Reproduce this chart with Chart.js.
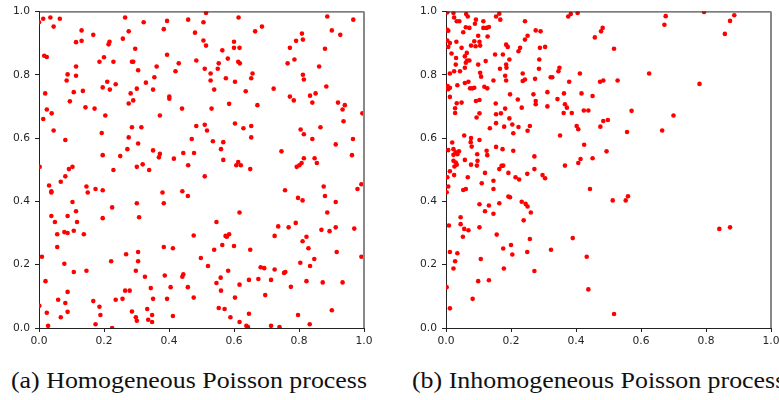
<!DOCTYPE html>
<html><head><meta charset="utf-8">
<script src="https://cdn.jsdelivr.net/npm/chart.js@4"></script>
<style>
html,body{margin:0;padding:0;width:779px;height:400px;overflow:hidden;background:#fff;}
.c{position:absolute;top:0;}
#a{left:0;} #b{left:405px;}
.cap{position:absolute;top:369px;font-family:"Liberation Serif",serif;font-size:23px;line-height:23px;white-space:nowrap;transform-origin:0 0;color:#111;}
</style></head><body>
<canvas id="a" class="c" width="380" height="360"></canvas>
<canvas id="b" class="c" width="380" height="360"></canvas>
<div class="cap" id="ca" style="left:11px">(a) Homogeneous Poisson process</div>
<div class="cap" id="cb" style="left:412px">(b) Inhomogeneous Poisson process</div>
<script>
const tickValues = [0, 0.2, 0.4, 0.6, 0.8, 1.0];
const captions = ["(a) Homogeneous Poisson process", "(b) Inhomogeneous Poisson process"];

// Homogeneous process: [x, y]
const homPoints = [
[0.000,0.966],[0.013,0.977],[0.035,0.981],[0.064,0.977],[0.045,0.952],[0.131,0.940],[0.167,0.926],[0.114,0.903],[0.131,0.907],[0.265,0.981],
[0.322,0.966],[0.394,0.970],[0.459,0.974],[0.384,0.944],[0.480,0.933],[0.276,0.937],[0.258,0.914],[0.217,0.904],[0.214,0.896],[0.296,0.882],
[0.016,0.860],[0.024,0.856],[0.200,0.855],[0.186,0.841],[0.229,0.841],[0.286,0.841],[0.290,0.841],[0.305,0.814],[0.362,0.826],[0.394,0.863],
[0.430,0.836],[0.420,0.811],[0.484,0.845],[0.114,0.826],[0.088,0.801],[0.085,0.782],[0.114,0.797],[0.210,0.778],[0.196,0.760],[0.218,0.753],
[0.236,0.770],[0.329,0.775],[0.355,0.792],[0.301,0.756],[0.282,0.741],[0.351,0.753],[0.401,0.731],[0.401,0.724],[0.276,0.709],[0.290,0.719],
[0.019,0.741],[0.107,0.745],[0.135,0.749],[0.095,0.716],[0.024,0.690],[0.039,0.678],[0.013,0.660],[0.143,0.697],[0.171,0.693],[0.204,0.671],
[0.372,0.671],[0.440,0.693],[0.045,0.624],[0.081,0.594],[0.193,0.616],[0.286,0.634],[0.315,0.634],[0.484,0.638],[0.470,0.597],[0.276,0.602],
[0.305,0.583],[0.272,0.565],[0.196,0.546],[0.250,0.543],[0.351,0.561],[0.372,0.550],[0.369,0.539],[0.415,0.535],[0.444,0.553],[0.477,0.553],
[0.459,0.514],[0.319,0.517],[0.301,0.509],[0.002,0.509],[0.103,0.509],[0.092,0.502],[0.229,0.499],[0.339,0.499],
[0.514,0.995],[0.506,0.966],[0.614,0.981],[0.506,0.908],[0.514,0.892],[0.564,0.877],[0.600,0.904],[0.600,0.885],[0.617,0.885],[0.665,0.937],
[0.686,0.952],[0.581,0.851],[0.553,0.836],[0.613,0.841],[0.618,0.836],[0.510,0.819],[0.528,0.804],[0.550,0.819],[0.528,0.782],[0.575,0.789],
[0.603,0.778],[0.657,0.804],[0.653,0.789],[0.539,0.753],[0.636,0.748],[0.722,0.756],[0.809,0.930],[0.791,0.907],[0.812,0.911],[0.772,0.885],
[0.765,0.836],[0.786,0.848],[0.812,0.800],[0.815,0.785],[0.887,0.984],[0.967,0.974],[0.901,0.940],[0.927,0.926],[0.880,0.882],[0.862,0.826],
[0.884,0.763],[0.772,0.731],[0.784,0.719],[0.834,0.734],[0.851,0.741],[0.841,0.712],[0.920,0.712],[0.941,0.704],[0.934,0.690],[0.995,0.678],
[0.937,0.653],[0.531,0.693],[0.585,0.708],[0.672,0.704],[0.510,0.642],[0.517,0.624],[0.603,0.646],[0.629,0.631],[0.653,0.638],[0.653,0.602],
[0.535,0.590],[0.567,0.587],[0.560,0.565],[0.567,0.531],[0.613,0.524],[0.607,0.514],[0.621,0.514],[0.650,0.502],[0.746,0.558],[0.805,0.627],
[0.815,0.612],[0.841,0.597],[0.866,0.634],[0.966,0.597],[0.913,0.580],[0.963,0.546],[0.815,0.536],[0.848,0.536],[0.855,0.521],[0.793,0.509],
[0.801,0.514],[0.808,0.521],
[0.081,0.479],[0.067,0.462],[0.031,0.450],[0.038,0.432],[0.038,0.428],[0.146,0.447],[0.150,0.428],[0.174,0.439],[0.196,0.435],[0.103,0.398],
[0.114,0.369],[0.038,0.354],[0.088,0.354],[0.049,0.335],[0.117,0.335],[0.056,0.296],[0.078,0.303],[0.088,0.300],[0.107,0.307],[0.138,0.296],
[0.196,0.347],[0.225,0.381],[0.301,0.394],[0.308,0.350],[0.380,0.428],[0.384,0.394],[0.441,0.432],[0.458,0.417],[0.476,0.292],[0.056,0.256],
[0.009,0.225],[0.078,0.203],[0.107,0.177],[0.146,0.181],[0.222,0.211],[0.268,0.233],[0.305,0.240],[0.305,0.211],[0.298,0.181],[0.326,0.162],
[0.384,0.256],[0.412,0.252],[0.498,0.221],[0.387,0.166],[0.441,0.162],[0.444,0.170],[0.020,0.148],[0.088,0.114],[0.265,0.118],[0.279,0.118],
[0.344,0.126],[0.405,0.129],[0.458,0.129],[0.476,0.096],[0.001,0.070],[0.059,0.089],[0.081,0.079],[0.088,0.051],[0.024,0.048],[0.067,0.034],
[0.028,0.007],[0.167,0.085],[0.186,0.067],[0.189,0.041],[0.174,0.012],[0.225,0.000],[0.236,0.089],[0.257,0.092],[0.286,0.052],[0.298,0.034],
[0.301,0.023],[0.333,0.060],[0.348,0.041],[0.336,0.026],[0.348,0.019],[0.351,0.092],[0.394,0.092],[0.412,0.038],
[0.510,0.479],[0.757,0.435],[0.876,0.447],[0.880,0.417],[0.980,0.439],[0.992,0.454],[0.797,0.411],[0.811,0.403],[0.913,0.398],[0.617,0.365],
[0.887,0.365],[0.546,0.335],[0.736,0.321],[0.768,0.318],[0.790,0.332],[0.725,0.291],[0.574,0.291],[0.578,0.288],[0.585,0.296],[0.564,0.262],
[0.600,0.259],[0.539,0.247],[0.650,0.247],[0.823,0.288],[0.811,0.274],[0.829,0.252],[0.869,0.310],[0.894,0.306],[0.913,0.318],[0.970,0.314],
[0.916,0.240],[0.992,0.225],[0.520,0.196],[0.582,0.181],[0.559,0.159],[0.546,0.142],[0.560,0.118],[0.617,0.137],[0.646,0.152],[0.603,0.096],
[0.682,0.192],[0.693,0.189],[0.725,0.185],[0.675,0.155],[0.714,0.152],[0.754,0.174],[0.758,0.177],[0.804,0.206],[0.834,0.196],[0.847,0.218],
[0.823,0.148],[0.873,0.144],[0.934,0.144],[0.775,0.130],[0.696,0.104],[0.553,0.063],[0.571,0.060],[0.589,0.034],[0.617,0.019],[0.638,0.007],
[0.643,0.003],[0.646,0.045],[0.714,0.007],[0.740,0.003],[0.797,0.041],[0.833,0.012],[0.901,0.056]
];

// Inhomogeneous process: [x, y]
const inhomPoints = [
[0.004,0.997],[0.023,0.995],[0.025,0.981],[0.062,0.992],[0.067,0.984],[0.033,0.969],[0.041,0.969],[0.092,0.974],[0.115,0.969],[0.154,0.984],
[0.164,0.993],[0.167,0.974],[0.243,0.969],[0.376,0.984],[0.384,0.992],[0.405,0.995],[0.004,0.942],[0.007,0.939],[0.061,0.950],[0.053,0.934],
[0.072,0.948],[0.089,0.961],[0.115,0.948],[0.125,0.948],[0.132,0.951],[0.099,0.923],[0.128,0.921],[0.276,0.940],[0.291,0.937],[0.251,0.923],
[0.243,0.911],[0.458,0.918],[0.004,0.908],[0.012,0.900],[0.007,0.888],[0.032,0.904],[0.017,0.867],[0.048,0.885],[0.064,0.869],[0.077,0.892],
[0.087,0.906],[0.091,0.890],[0.103,0.904],[0.105,0.892],[0.185,0.895],[0.190,0.888],[0.151,0.864],[0.175,0.864],[0.223,0.874],[0.228,0.885],
[0.289,0.885],[0.305,0.888],[0.031,0.853],[0.030,0.832],[0.058,0.858],[0.065,0.845],[0.061,0.838],[0.072,0.845],[0.122,0.843],[0.058,0.822],
[0.099,0.832],[0.105,0.806],[0.185,0.832],[0.186,0.822],[0.195,0.848],[0.166,0.819],[0.287,0.848],[0.286,0.819],[0.236,0.804],[0.349,0.822],
[0.346,0.811],[0.322,0.792],[0.327,0.792],[0.412,0.804],[0.012,0.804],[0.025,0.811],[0.043,0.811],[0.058,0.774],[0.069,0.778],[0.074,0.757],
[0.081,0.757],[0.087,0.759],[0.005,0.764],[0.012,0.759],[0.007,0.754],[0.035,0.767],[0.108,0.794],[0.118,0.762],[0.127,0.757],[0.146,0.782],
[0.182,0.797],[0.185,0.782],[0.236,0.780],[0.243,0.785],[0.274,0.787],[0.379,0.778],[0.012,0.730],[0.033,0.710],[0.048,0.712],[0.028,0.694],
[0.028,0.679],[0.092,0.717],[0.103,0.720],[0.153,0.709],[0.197,0.738],[0.221,0.722],[0.233,0.696],[0.269,0.738],[0.276,0.717],[0.276,0.707],
[0.312,0.745],[0.312,0.700],[0.343,0.723],[0.363,0.741],[0.366,0.707],[0.372,0.696],[0.362,0.679],[0.387,0.679],[0.417,0.741],[0.424,0.687],
[0.438,0.687],[0.451,0.733],[0.103,0.678],[0.094,0.665],[0.154,0.675],[0.182,0.693],[0.169,0.678],[0.195,0.662],[0.154,0.647],[0.179,0.636],
[0.204,0.643],[0.223,0.635],[0.207,0.615],[0.135,0.631],[0.258,0.638],[0.251,0.623],[0.402,0.638],[0.407,0.628],[0.351,0.608],[0.484,0.654],
[0.475,0.636],[0.056,0.608],[0.077,0.600],[0.103,0.594],[0.076,0.587],[0.079,0.573],[0.019,0.586],[0.007,0.562],[0.023,0.565],[0.030,0.555],
[0.035,0.549],[0.040,0.558],[0.023,0.547],[0.058,0.531],[0.023,0.528],[0.030,0.523],[0.033,0.516],[0.026,0.510],[0.096,0.549],[0.097,0.528],
[0.095,0.513],[0.077,0.516],[0.125,0.560],[0.127,0.546],[0.154,0.572],[0.174,0.565],[0.207,0.560],[0.171,0.512],[0.176,0.513],[0.272,0.542],
[0.272,0.502],[0.366,0.513],[0.407,0.521],[0.414,0.534],[0.451,0.536],[0.425,0.579],[0.494,0.558],[0.477,0.937],[0.482,0.948],[0.474,0.778],
[0.484,0.782],
[0.676,0.985],[0.672,0.958],[0.794,0.998],[0.887,0.988],[0.874,0.970],[0.858,0.929],[0.517,0.882],[0.625,0.804],[0.528,0.782],[0.780,0.771],
[0.571,0.686],[0.700,0.671],[0.498,0.657],[0.557,0.619],[0.665,0.624],
[0.012,0.495],[0.025,0.483],[0.120,0.490],[0.164,0.502],[0.192,0.490],[0.250,0.487],[0.297,0.483],[0.305,0.473],[0.004,0.476],[0.007,0.447],
[0.002,0.429],[0.067,0.476],[0.053,0.436],[0.061,0.439],[0.110,0.457],[0.146,0.465],[0.146,0.439],[0.214,0.476],[0.225,0.469],[0.103,0.391],
[0.132,0.387],[0.164,0.394],[0.192,0.415],[0.197,0.413],[0.233,0.399],[0.245,0.392],[0.251,0.384],[0.261,0.365],[0.120,0.369],[0.146,0.361],
[0.239,0.340],[0.045,0.350],[0.045,0.328],[0.056,0.313],[0.069,0.309],[0.052,0.288],[0.009,0.324],[0.103,0.318],[0.156,0.295],[0.258,0.281],
[0.390,0.284],[0.443,0.439],[0.012,0.240],[0.035,0.236],[0.028,0.211],[0.023,0.188],[0.107,0.218],[0.176,0.251],[0.200,0.262],[0.204,0.232],
[0.250,0.240],[0.323,0.247],[0.433,0.225],[0.178,0.188],[0.272,0.180],[0.002,0.129],[0.099,0.148],[0.132,0.151],[0.082,0.092],[0.012,0.062],
[0.438,0.122],
[0.513,0.403],[0.553,0.403],[0.560,0.416],[0.841,0.313],[0.874,0.318],[0.517,0.044]
];

const frame = {
  id: 'frame',
  afterDraw(chart) {
    const {ctx, chartArea: a} = chart;
    ctx.save();
    ctx.lineWidth = 1;
    ctx.strokeStyle = '#222';
    ctx.beginPath();
    ctx.moveTo(a.left, a.top + 0.5); ctx.lineTo(a.right, a.top + 0.5);
    ctx.stroke();
    ctx.strokeStyle = '#888';
    ctx.lineWidth = 2;
    ctx.beginPath();
    ctx.moveTo(a.right, a.top); ctx.lineTo(a.right, a.bottom);
    ctx.stroke();
    ctx.restore();
  }
};

function axis(isX, size) {
  return {
    type: 'linear', min: 0, max: 1,
    afterFit(s) { if (isX) s.height = size; else s.width = size; },
    afterBuildTicks(s) { s.ticks = tickValues.map(v => ({value: v})); },
    ticks: {
      callback: v => Number(v).toFixed(1),
      font: {family: 'DejaVu Sans', size: 10.7},
      color: '#262626', padding: isX ? 3 : 5, maxRotation: 0, autoSkip: false
    },
    grid: {drawOnChartArea: false, drawTicks: true, tickLength: 4, color: '#222', tickColor: '#222'},
    border: {display: true, color: '#222', width: 1}
  };
}

function make(id, pts, yW, padR) {
  return new Chart(document.getElementById(id), {
    type: 'scatter',
    data: {datasets: [{
      data: pts.map(p => ({x: p[0], y: p[1]})),
      backgroundColor: '#ff0000', borderWidth: 0,
      pointRadius: 2.3, pointHoverRadius: 2.3
    }]},
    options: {
      responsive: false, animation: false, events: [],
      layout: {padding: {top: 10, left: 0, right: padR, bottom: 12}},
      plugins: {legend: {display: false}, tooltip: {enabled: false}},
      scales: {x: axis(true, 20), y: axis(false, yW)}
    },
    plugins: [frame]
  });
}

make('a', homPoints, 39, 16);
make('b', inhomPoints, 41, 14);

const ca = document.getElementById('ca'), cb = document.getElementById('cb');
ca.textContent = captions[0];
cb.textContent = captions[1];
const k = 356 / ca.getBoundingClientRect().width;
ca.style.transform = 'scaleX(' + k + ')';
cb.style.transform = 'scaleX(' + k + ')';
</script>
</body></html>
